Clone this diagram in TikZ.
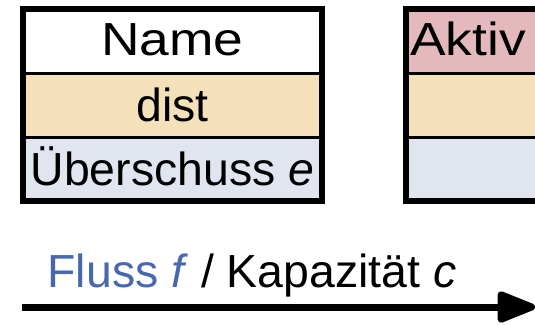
\documentclass[tikz,border=0pt]{standalone}
\usepackage{fontspec}
\setmainfont{Liberation Sans}
\newfontfamily\widefont[FakeStretch=1.15]{Liberation Sans}
\usetikzlibrary{positioning,arrows.meta}
\definecolor{distfill}{HTML}{F4E1BA}
\definecolor{excessfill}{HTML}{E1E5F0}
\definecolor{activefill}{HTML}{E3B9BE}
\definecolor{flowblue}{HTML}{4768B0}
\begin{document}
\begin{tikzpicture}[cell/.style={draw,line width=0.075cm,minimum width=7.475cm,minimum height=1.6cm,
            inner sep=0pt,outer sep=0pt,text height=0.83cm,text depth=0pt},
        head/.style={text height=0.7cm,font=\fontsize{33}{40}\widefont},
        frame/.style={line width=0.15cm},
        flow/.style={-{Triangle[length=1.1cm,width=0.82cm,round]},line width=0.175cm},
        every node/.style={font=\fontsize{33}{40}\selectfont}]
    \useasboundingbox (0,0) rectangle (13.375,-8.1);
    \clip (0,0) rectangle (13.375,-8.1);

    \node[cell,head,fill=white] (name) at (4.3125,-1.025) {Name};
    \node[cell,fill=distfill,below=0pt of name] (dist) {dist};
    \node[cell,fill=excessfill,below=0pt of dist] (excess) {Überschuss \textit{e}};
    \draw[frame] (name.north west) rectangle (excess.south east);

    \node[cell,fill=activefill] (active) at (13.8875,-1.025) {};
    \node[cell,fill=distfill,below=0pt of active] (activedist) {};
    \node[cell,fill=excessfill,below=0pt of activedist] (activeexcess) {};
    \draw[frame] (active.north west) rectangle (activeexcess.south east);
    \node[head,anchor=west,inner sep=0pt,text depth=0pt] (activetext)
        at ([xshift=0.1cm]active.west) {Aktiv};

    \node[anchor=base] (flowlabel) at (6.3,-7.175) {\textcolor{flowblue}{Fluss \textit{f}} / Kapazität \textit{c}};
    \coordinate (tail) at (0.55,-7.675);
    \coordinate (head) at (13.375,-7.675);
    \draw[flow] (tail) -- (head);
\end{tikzpicture}
\end{document}
